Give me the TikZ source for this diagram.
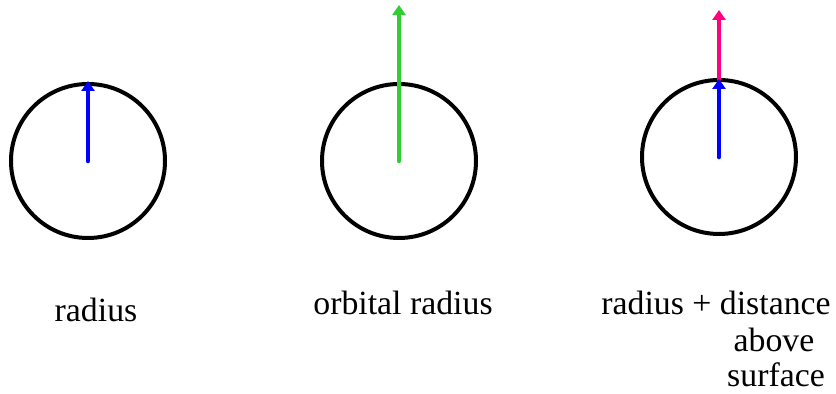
\documentclass[tikz,border=0pt]{standalone}
\usepackage{fontspec}
\setmainfont{Liberation Serif}
\usepackage{xcolor}
\usetikzlibrary{arrows.meta}
\definecolor{radblue}{RGB}{0,0,255}
\definecolor{orbgreen}{RGB}{50,205,50}
\definecolor{altpink}{RGB}{255,0,128}

\begin{document}
\begin{tikzpicture}[x=0.5pt,y=-0.5pt,
    planet/.style={circle,draw,line width=2pt,minimum size=77pt,inner sep=0pt},
    vec/.style={line width=2.3pt,line cap=round,-{Triangle[width=6.5pt,length=5pt]}},
    lbl/.style={font=\fontsize{16.9}{18}\selectfont,anchor=base,inner sep=0pt}]
    \useasboundingbox (0,0) rectangle (836,394);

    % Radius
    \node[planet] (p1) at (88,161) {};
    \coordinate (t1) at (88,81);
    \draw[vec,radblue] (p1.center) -- (t1);
    \node[lbl] (l1) at (96,322) {radius};

    % Orbital radius
    \node[planet] (p2) at (399,161) {};
    \coordinate (t2) at (399,5);
    \draw[vec,orbgreen] (p2.center) -- (t2);
    \node[lbl] (l2) at (403,315) {orbital radius};

    % Radius + distance above surface
    \node[planet] (p3) at (719,157) {};
    \coordinate (t3) at (719,79);
    \coordinate (t4) at (719,10);
    \draw[vec,altpink] (t3) -- (t4);
    \draw[vec,radblue] (p3.center) -- (t3);
    \node[lbl] (l3) at (716,315) {radius + distance};
    \node[lbl] (l4) at (774,352) {above};
    \node[lbl] (l5) at (776,387) {surface};
\end{tikzpicture}
\end{document}
